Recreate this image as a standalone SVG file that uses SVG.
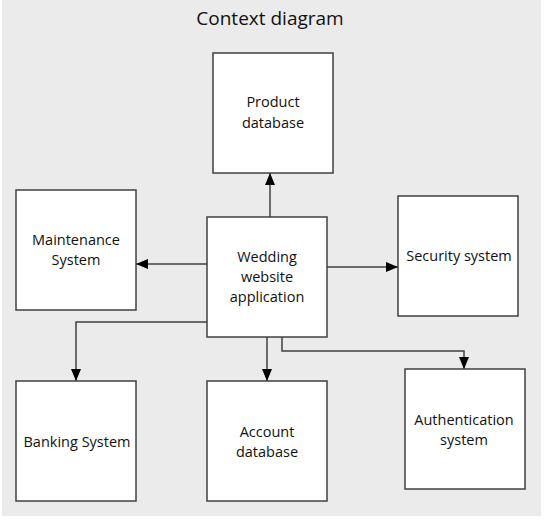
<svg xmlns="http://www.w3.org/2000/svg" width="545" height="522" viewBox="0 0 545 522">
<style>
.box{fill:#fff;stroke:#404040;stroke-width:1.5}
.lbl{font-family:"Open Sans","Liberation Sans",sans-serif;font-size:14.5px;fill:#111;text-anchor:middle}
.ttl{font-family:"Open Sans","Liberation Sans",sans-serif;font-size:19px;fill:#111;text-anchor:middle}
.con{fill:none;stroke:#404040;stroke-width:1.5}
</style>
<defs>
<marker id="ah" viewBox="0 0 12 10" refX="12" refY="5" markerWidth="12" markerHeight="10" markerUnits="userSpaceOnUse" orient="auto">
<path d="M0,0 L12,5 L0,10 z" fill="#000"/>
</marker>
</defs>
<rect x="0" y="0" width="545" height="522" fill="#fff"/>
<rect x="2" y="0" width="539" height="516" fill="#ebebeb"/>
<text class="ttl" x="270" y="25">Context diagram</text>
<g id="connectors">
<path class="con" d="M270,217 V173" marker-end="url(#ah)"/>
<path class="con" d="M207,264 H136" marker-end="url(#ah)"/>
<path class="con" d="M327,267 H398" marker-end="url(#ah)"/>
<path class="con" d="M207,322 H76 V381" marker-end="url(#ah)"/>
<path class="con" d="M267,337 V381" marker-end="url(#ah)"/>
<path class="con" d="M282,337 V351 H464 V369" marker-end="url(#ah)"/>
</g>
<g id="product">
<rect class="box" x="213" y="53" width="120" height="120"/>
<text class="lbl" x="273" y="107">Product</text>
<text class="lbl" x="273" y="128">database</text>
</g>
<g id="maintenance">
<rect class="box" x="16" y="190" width="120" height="120"/>
<text class="lbl" x="76" y="245">Maintenance</text>
<text class="lbl" x="76" y="265">System</text>
</g>
<g id="wedding">
<rect class="box" x="207" y="217" width="120" height="120"/>
<text class="lbl" x="267" y="262">Wedding</text>
<text class="lbl" x="267" y="282">website</text>
<text class="lbl" x="267" y="302">application</text>
</g>
<g id="security">
<rect class="box" x="398" y="196" width="120" height="120"/>
<text class="lbl" x="459" y="261">Security system</text>
</g>
<g id="banking">
<rect class="box" x="16" y="381" width="120" height="120"/>
<text class="lbl" x="77" y="447">Banking System</text>
</g>
<g id="account">
<rect class="box" x="207" y="381" width="120" height="120"/>
<text class="lbl" x="267" y="437">Account</text>
<text class="lbl" x="267" y="457">database</text>
</g>
<g id="authentication">
<rect class="box" x="405" y="369" width="120" height="120"/>
<text class="lbl" x="464" y="425">Authentication</text>
<text class="lbl" x="464" y="445">system</text>
</g>
</svg>
